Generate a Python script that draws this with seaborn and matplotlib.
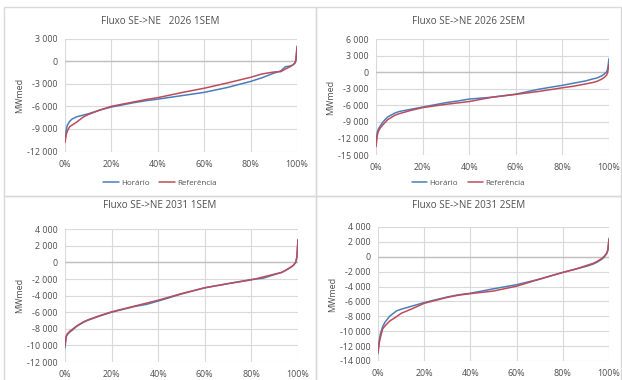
import matplotlib
matplotlib.use("Agg")
import matplotlib.pyplot as plt
from matplotlib.patches import Rectangle
from matplotlib.lines import Line2D
from matplotlib.ticker import FuncFormatter, FixedLocator
import seaborn as sns
import pandas as pd

sns.set_theme(style="white")
plt.rcParams["font.family"] = ["Open Sans", "DejaVu Sans"]

# Permanence (% of time) at which each flow was read
pct = [0, 0.5, 1, 2, 3, 5, 8, 10, 15, 20, 30, 35, 40, 50, 60, 70, 80, 85, 90,
       93, 95, 97, 98, 99, 99.5, 100]

# Fluxo SE->NE 2026 1SEM (MWmed)
h_2026_1 = [-10500, -9200, -8500, -8000, -7700, -7400, -7150, -7000, -6500, -6100,
            -5500, -5250, -5050, -4600, -4150, -3500, -2700, -2200, -1600, -1300,
            -750, -650, -550, -300, 0, 1500]
r_2026_1 = [-10800, -9800, -9300, -8700, -8500, -8100, -7400, -7100, -6500, -6000,
            -5400, -5100, -4850, -4200, -3600, -2900, -2150, -1700, -1450, -1400,
            -1050, -750, -550, -300, 200, 2000]
# Fluxo SE->NE 2026 2SEM
h_2026_2 = [-13000, -11000, -10300, -9600, -9000, -8100, -7400, -7100, -6700, -6300,
            -5500, -5200, -4850, -4500, -3950, -3050, -2350, -1950, -1550, -1200,
            -1000, -600, -300, 100, 800, 2500]
r_2026_2 = [-13500, -11500, -10700, -10000, -9500, -8600, -7800, -7500, -6900, -6400,
            -5800, -5550, -5300, -4500, -4000, -3450, -2800, -2500, -2100, -1850,
            -1600, -1200, -900, -500, 200, 1500]
# Fluxo SE->NE 2031 1SEM
h_2031_1 = [-10300, -9000, -8700, -8400, -8200, -7700, -7200, -6950, -6450, -6000,
            -5300, -5050, -4650, -3800, -3050, -2550, -2050, -1900, -1450, -1200,
            -900, -550, -350, 0, 600, 2800]
r_2031_1 = [-10000, -8900, -8600, -8300, -8100, -7650, -7150, -6900, -6400, -5950,
            -5250, -4900, -4550, -3750, -3050, -2550, -2100, -1750, -1400, -1200,
            -900, -550, -350, 0, 600, 2700]
# Fluxo SE->NE 2031 2SEM
h_2031_2 = [-13000, -11300, -10400, -9400, -8800, -8000, -7270, -7050, -6600, -6150,
            -5400, -5100, -4900, -4300, -3750, -3000, -2100, -1700, -1300, -1000,
            -700, -300, 0, 400, 900, 2500]
r_2031_2 = [-12800, -11600, -10900, -9700, -9300, -8650, -8050, -7600, -6950, -6250,
            -5450, -5150, -4950, -4600, -3950, -3000, -2100, -1700, -1200, -900,
            -600, -200, 100, 500, 900, 2300]

titles = ["Fluxo SE->NE   2026 1SEM", "Fluxo SE->NE 2026 2SEM",
          "Fluxo SE->NE 2031 1SEM", "Fluxo SE->NE 2031 2SEM"]
series_names = ["Horário", "Referência"]
y_ticks = [
    [3000, 0, -3000, -6000, -9000, -12000],
    [6000, 3000, 0, -3000, -6000, -9000, -12000, -15000],
    [4000, 2000, 0, -2000, -4000, -6000, -8000, -10000, -12000],
    [4000, 2000, 0, -2000, -4000, -6000, -8000, -10000, -12000, -14000],
]
x_ticks = [0, 20, 40, 60, 80, 100]
panels = [(h_2026_1, r_2026_1), (h_2026_2, r_2026_2),
          (h_2031_1, r_2031_1), (h_2031_2, r_2031_2)]

BLUE = "#4a7ebb"
RED = "#be4b5a"
GRID = "#d9d9d9"
TEXT = "#505050"

W, H = 622, 380
fig = plt.figure(figsize=(W / 100, H / 100), dpi=100)
fig.patch.set_facecolor("white")

# chart boxes (pixels: left, top, right, bottom)
boxes = [(4, 7, 316, 196), (316, 7, 621, 196), (4, 196, 316, 384), (316, 196, 621, 384)]
# plot areas (pixels: left, top, right, bottom)
areas = [(65, 38.5, 297, 151.5), (376, 39.3, 609, 155),
         (65, 229.3, 298, 362), (378, 227, 609, 361)]
title_y = [22, 22, 206, 206]


def thousands(v, _):
    s = f"{abs(int(round(v))):,}".replace(",", " ")
    return ("-" if v < 0 else "") + s


for i, (data, box, area) in enumerate(zip(panels, boxes, areas)):
    bl, bt, br, bb = box
    fig.add_artist(Rectangle((bl / W, 1 - bb / H), (br - bl) / W, (bb - bt) / H,
                             transform=fig.transFigure, facecolor="none",
                             edgecolor=GRID, lw=1.0, zorder=-5))
    l, t, r, b = area
    ax = fig.add_axes([l / W, 1 - b / H, (r - l) / W, (b - t) / H])
    ax.set_facecolor("none")
    ax.set_zorder(2)

    df = pd.DataFrame({"pct": pct * 2,
                       "MWmed": list(data[0]) + list(data[1]),
                       "serie": [series_names[0]] * len(pct) + [series_names[1]] * len(pct)})
    sns.lineplot(data=df, x="pct", y="MWmed", hue="serie", sort=False,
                 palette={series_names[0]: BLUE, series_names[1]: RED},
                 linewidth=1.1, legend=False, ax=ax, zorder=3)

    yt = y_ticks[i]
    ax.set_ylim(min(yt), max(yt))
    ax.set_xlim(0, 100)
    ax.yaxis.set_major_locator(FixedLocator(yt))
    ax.xaxis.set_major_locator(FixedLocator(x_ticks))
    ax.yaxis.set_major_formatter(FuncFormatter(thousands))
    ax.xaxis.set_major_formatter(FuncFormatter(lambda v, _: f"{int(v)}%"))
    ax.grid(True, color=GRID, lw=0.8, zorder=0)
    ax.axhline(0, color="#bfbfbf", lw=1.0, zorder=1)
    for s in ax.spines.values():
        s.set_visible(False)
    ax.tick_params(length=0, labelsize=6.4, colors=TEXT)
    ax.tick_params(axis="x", pad=6)
    ax.tick_params(axis="y", pad=5.5)
    ax.set_xlabel("")
    ax.set_ylabel("MWmed", fontsize=6.5, color=TEXT, labelpad=2)

    fig.text(((bl + br) / 2) / W, 1 - title_y[i] / H, titles[i], ha="center",
             va="center", fontsize=7.1, color=TEXT)

    if i < 2:
        handles = [Line2D([], [], color=BLUE, lw=1.1), Line2D([], [], color=RED, lw=1.1)]
        fig.legend(handles, series_names, loc="center",
                   bbox_to_anchor=(((bl + br) / 2) / W, 1 - 183 / H), ncol=2,
                   frameon=False, fontsize=5.8, handlelength=1.9, handletextpad=0.3,
                   columnspacing=1.2, labelcolor=TEXT)

fig.savefig("out.png", dpi=100, facecolor="white")
